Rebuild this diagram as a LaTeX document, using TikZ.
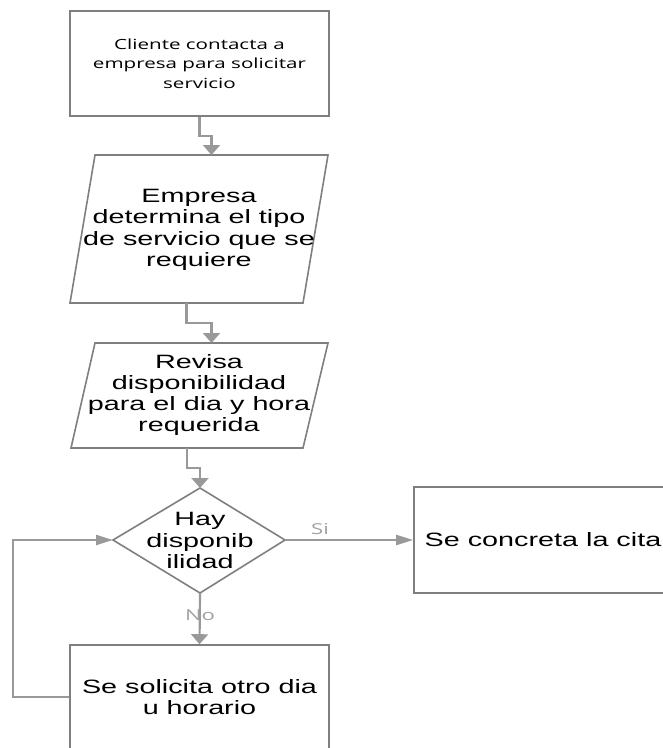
\documentclass[tikz,border=0pt]{standalone}
\usepackage{fontspec}
\usetikzlibrary{arrows.meta,calc}
\newfontfamily\bigf[FakeStretch=1.49]{Liberation Sans}
\newfontfamily\smlf[FakeStretch=1.47]{Open Sans}
\definecolor{boxc}{HTML}{7F7F7F}
\definecolor{linec}{HTML}{999999}
\definecolor{labc}{HTML}{A0A0A0}
\tikzset{
  shapeline/.style={draw=boxc, line width=1.6pt},
  box/.style={shapeline, fill=white, rectangle, inner sep=0pt},
  bigtext/.style={font=\bigf\fontsize{19.3pt}{21.3pt}\selectfont, align=center, text=black, inner sep=0pt},
  smalltext/.style={font=\smlf\fontsize{14pt}{19.5pt}\selectfont, align=center, text=black, inner sep=0pt},
  lab/.style={font=\smlf\fontsize{15pt}{18pt}\selectfont, text=labc, inner sep=0pt},
  conn/.style={draw=linec, line width=2.2pt},
  varr/.style={-{Triangle[width=17pt,length=10pt]}},
  harr/.style={-{Triangle[width=10pt,length=17pt]}}
}
\begin{document}
\begin{tikzpicture}[x=1pt,y=-1pt]
\useasboundingbox (0,0) rectangle (663,748);
\clip (0,0) rectangle (663,748);
% box 1
\node[box, minimum width=259pt, minimum height=105pt, smalltext] (b1) at (199.5,63.5)
  {Cliente contacta a\\empresa para solicitar\\servicio};
% parallelogram 1
\draw[shapeline] (95,155) -- (328,155) -- (303,303) -- (70,303) -- cycle;
\coordinate (p1n) at (211.5,155);
\coordinate (p1s) at (186.5,303);
\node[bigtext] (p1) at (199,230) {Empresa\\determina el tipo\\de servicio que se\\requiere};
% parallelogram 2
\draw[shapeline] (95,343) -- (328,343) -- (303,448) -- (71,448) -- cycle;
\coordinate (p2n) at (211.5,343);
\coordinate (p2s) at (187,448);
\node[bigtext] (p2) at (199,395) {Revisa\\disponibilidad\\para el dia y hora\\requerida};
% diamond
\coordinate (dN) at (200,488);
\coordinate (dS) at (200,593);
\coordinate (dW) at (113,540);
\coordinate (dE) at (285,540);
\draw[shapeline] (dN) -- (dE) -- (dS) -- (dW) -- cycle;
\node[bigtext] (d) at (200,540.5) {Hay\\disponib\\ilidad};
% right box
\node[box, minimum width=258pt, minimum height=106pt, bigtext, draw=boxc, line width=1.6pt] (b3) at (543,540)
  {Se concreta la cita};
% bottom box
\node[box, minimum width=259pt, minimum height=104pt, bigtext, draw=boxc, line width=1.6pt] (b4) at (199.5,697)
  {Se solicita otro dia\\u horario};
\coordinate (lp) at (13,697);
% connectors
\draw[conn,varr] (b1.south) |- ($(b1.south)!0.5!(p1n)$) -| (p1n);
\draw[conn,varr] (p1s) |- ($(p1s)!0.5!(p2n)$) -| (p2n);
\draw[conn,varr] (p2s) |- ($(p2s)!0.5!(dN)$) -| (dN);
\draw[conn,harr] (dE) -- (b3.west);
\draw[conn,varr] (dS) -- (b4.north);
\draw[conn,harr] (b4.west) -- (lp) |- (dW);
% labels
\node[lab] (si) at (320,529) {Si};
\node[lab] (no) at (200,615) {No};
\end{tikzpicture}
\end{document}
